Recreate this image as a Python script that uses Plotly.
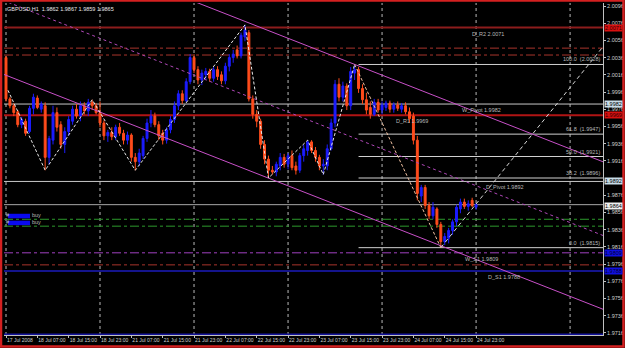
import plotly.graph_objects as go

# ---------------- data ----------------
bar_idx = list(range(-1, 121))
opens = [1.9987, 2.0036, 1.9988, 1.9980, 1.9973, 1.9958, 1.9962, 1.9950, 1.9977, 1.9989, 1.9976, 1.9980,
         1.9920, 1.9940, 1.9972, 1.9958, 1.9935, 1.9950, 1.9962, 1.9976, 1.9968, 1.9980, 1.9974, 1.9984,
         1.9980, 1.9972, 1.9960, 1.9945, 1.9949, 1.9944, 1.9955, 1.9948, 1.9940, 1.9946, 1.9920,
         1.9915, 1.9922, 1.9942, 1.9960, 1.9968, 1.9958, 1.9948, 1.9940, 1.9952, 1.9964, 1.9980, 1.9994,
         1.9986, 2.0008, 2.0036, 2.0022, 2.0010, 2.0016, 2.0020, 2.0012, 2.0022, 2.0016, 2.0009, 2.0026,
         2.0036, 2.0045, 2.0038, 2.0060, 2.0065,
         1.9988, 1.9970, 1.9962, 1.9935, 1.9918,
         1.9905, 1.9903, 1.9910, 1.9920, 1.9912, 1.9922, 1.9910, 1.9905, 1.9922, 1.9928, 1.9938, 1.9928,
         1.9920, 1.9910, 1.9910, 1.9930, 1.9960, 2.0005, 1.9990, 2.0003, 1.9980, 2.0018,
         2.0022, 2.0000, 1.9987, 1.9978, 1.9970, 1.9984, 1.9975, 1.9978, 1.9983, 1.9976, 1.9981, 1.9976,
         1.9980, 1.9973, 1.9968, 1.9940, 1.9875, 1.9885, 1.9864, 1.9852, 1.9860, 1.9842, 1.9822, 1.9826,
         1.9835, 1.9845, 1.9860, 1.9868, 1.9863, 1.9870, 1.9862]
highs = [2.0040, 2.0038, 1.9990, 1.9983, 1.9975, 1.9967, 1.9965, 1.9980, 1.9994, 1.9992, 1.9985, 1.9984,
         1.9945, 1.9980, 1.9978, 1.9962, 1.9955, 1.9968, 1.9980, 1.9982, 1.9985, 1.9984, 1.9988, 1.9987,
         1.9983, 1.9985, 1.9963, 1.9952, 1.9955, 1.9958, 1.9960, 1.9952, 1.9950, 1.9948, 1.9925,
         1.9930, 1.9945, 1.9965, 1.9975, 1.9972, 1.9962, 1.9952, 1.9955, 1.9968, 1.9985, 1.9998, 1.9998,
         2.0012, 2.0040, 2.0040, 2.0026, 2.0022, 2.0024, 2.0023, 2.0025, 2.0026, 2.0020, 2.0030, 2.0040,
         2.0045, 2.0050, 2.0065, 2.0074, 2.0068,
         1.9992, 1.9975, 1.9965, 1.9940, 1.9922,
         1.9910, 1.9915, 1.9925, 1.9924, 1.9925, 1.9928, 1.9915, 1.9925, 1.9935, 1.9940, 1.9940, 1.9932,
         1.9923, 1.9918, 1.9935, 1.9965, 2.0010, 2.0012, 2.0008, 2.0006, 2.0025, 2.0028,
         2.0025, 2.0005, 1.9995, 1.9985, 1.9988, 1.9988, 1.9985, 1.9986, 1.9986, 1.9984, 1.9985, 1.9983,
         1.9984, 1.9978, 1.9972, 1.9945, 1.9888, 1.9888, 1.9868, 1.9868, 1.9862, 1.9845, 1.9832, 1.9838,
         1.9848, 1.9865, 1.9872, 1.9872, 1.9870, 1.9873, 1.9867]
lows = [1.9985, 1.9985, 1.9977, 1.9968, 1.9955, 1.9954, 1.9945, 1.9948, 1.9970, 1.9976, 1.9972, 1.9905,
        1.9912, 1.9935, 1.9950, 1.9930, 1.9925, 1.9945, 1.9958, 1.9965, 1.9962, 1.9970, 1.9968, 1.9975,
        1.9970, 1.9955, 1.9940, 1.9938, 1.9940, 1.9940, 1.9945, 1.9935, 1.9935, 1.9915, 1.9905,
        1.9910, 1.9918, 1.9938, 1.9955, 1.9955, 1.9940, 1.9935, 1.9936, 1.9948, 1.9960, 1.9975, 1.9982,
        1.9984, 2.0005, 2.0018, 2.0005, 2.0004, 2.0010, 2.0008, 2.0008, 2.0010, 2.0005, 2.0005, 2.0020,
        2.0030, 2.0035, 2.0035, 2.0055, 1.9985,
        1.9965, 1.9955, 1.9930, 1.9912, 1.9896,
        1.9900, 1.9898, 1.9905, 1.9908, 1.9906, 1.9905, 1.9900, 1.9902, 1.9915, 1.9922, 1.9925, 1.9915,
        1.9905, 1.9900, 1.9905, 1.9928, 1.9955, 1.9985, 1.9985, 1.9975, 1.9975, 2.0010,
        1.9995, 1.9982, 1.9970, 1.9965, 1.9968, 1.9972, 1.9970, 1.9974, 1.9972, 1.9972, 1.9974, 1.9972,
        1.9970, 1.9960, 1.9935, 1.9870, 1.9868, 1.9860, 1.9848, 1.9848, 1.9838, 1.9815, 1.9818, 1.9820,
        1.9830, 1.9840, 1.9855, 1.9860, 1.9858, 1.9862, 1.9859]
closes = [2.0036, 1.9988, 1.9980, 1.9972, 1.9958, 1.9964, 1.9948, 1.9977, 1.9990, 1.9978, 1.9982, 1.9920,
          1.9942, 1.9972, 1.9955, 1.9935, 1.9950, 1.9964, 1.9976, 1.9968, 1.9980, 1.9974, 1.9984, 1.9980,
          1.9972, 1.9960, 1.9945, 1.9949, 1.9944, 1.9955, 1.9948, 1.9940, 1.9946, 1.9920, 1.9915,
          1.9925, 1.9942, 1.9960, 1.9968, 1.9958, 1.9945, 1.9940, 1.9952, 1.9964, 1.9980, 1.9994, 1.9986,
          2.0008, 2.0036, 2.0022, 2.0010, 2.0018, 2.0020, 2.0012, 2.0022, 2.0014, 2.0009, 2.0026, 2.0036,
          2.0040, 2.0038, 2.0062, 2.0068, 1.9988,
          1.9970, 1.9962, 1.9935, 1.9918, 1.9905,
          1.9903, 1.9912, 1.9920, 1.9912, 1.9922, 1.9908, 1.9905, 1.9922, 1.9930, 1.9938, 1.9928, 1.9920,
          1.9910, 1.9912, 1.9930, 1.9960, 2.0005, 1.9990, 2.0003, 1.9980, 2.0020, 2.0022,
          2.0000, 1.9987, 1.9975, 1.9970, 1.9984, 1.9975, 1.9981, 1.9983, 1.9976, 1.9981, 1.9977, 1.9980,
          1.9973, 1.9965, 1.9940, 1.9878, 1.9885, 1.9864, 1.9852, 1.9862, 1.9842, 1.9822, 1.9828, 1.9835,
          1.9845, 1.9862, 1.9868, 1.9863, 1.9866, 1.9864, 1.9865]

x_tick_idx = [0, 8, 16, 24, 32, 40, 48, 56, 64, 72, 80, 88, 96, 104, 112, 120]
x_tick_text = ["17 Jul 2008", "18 Jul 07:00", "18 Jul 15:00", "18 Jul 23:00", "21 Jul 07:00",
               "21 Jul 15:00", "21 Jul 23:00", "22 Jul 07:00", "22 Jul 15:00", "22 Jul 23:00",
               "23 Jul 07:00", "23 Jul 15:00", "23 Jul 23:00", "24 Jul 07:00", "24 Jul 15:00",
               "24 Jul 23:00"]
grid_idx = [0, 24, 48, 72, 96, 120, 144]
y_tick_vals = [1.9716, 1.9736, 1.9756, 1.9776, 1.9796, 1.9816, 1.9836, 1.9856, 1.9876,
               1.9916, 1.9936, 1.9956, 1.9976, 1.9996, 2.0016, 2.0036, 2.0056, 2.0076, 2.0096]

# zigzag pivots (bar index, price)
zz_idx = [0.5, 10, 22, 33, 61, 67, 77, 81, 89]
zz_px = [1.9998, 1.9905, 1.9987, 1.9905, 2.0074, 1.9896, 1.9940, 1.9900, 2.0028]
leg_idx = [89, 111]
leg_px = [2.0028, 1.9815]
proj_idx = [111, 153]
proj_px = [1.9815, 2.0052]

# regression channel (endpoints)
chan_idx = [-0.8, 153]
chan_upper = [2.01885, 1.99138]
chan_mid = [2.01027, 1.98281]
chan_lower = [2.00169, 1.97423]

# horizontal level lines: price, colour, width, dash
lvl_price = [2.0071, 2.0047, 2.0039, 1.9982, 1.9969, 1.9892, 1.9865, 1.9848, 1.9840, 1.9809, 1.9795, 1.9788, 1.9714]
lvl_color = ["#8c1c1c", "#a8342c", "#a8342c", "#c8c8c8", "#b01414", "#c8c8c8", "#a8a8a8",
             "#2c9a2c", "#2c9a2c", "#a040c0", "#a8342c", "#14148c", "#14149a"]
lvl_width = [2, 1, 1, 1, 2, 1, 1, 1, 1, 1, 1, 2, 2]
lvl_dash = ["solid", "dashdot", "dashdot", "solid", "solid", "solid", "solid",
            "dashdot", "dashdot", "dashdot", "dashdot", "solid", "solid"]

# labels on level lines
lbl_text = ["D_R2 2.0071", "W_Pivot 1.9982", "D_R1 1.9969", "D_Pivot 1.9892", "W_S1 1.9809", "D_S1 1.9788"]
lbl_idx = [118.5, 116, 99, 122, 116.7, 122.5]
lbl_price = [2.0071, 1.9982, 1.9969, 1.9892, 1.9809, 1.9788]

# fibonacci
fib_start = 90
fib_price = [2.0028, 1.9947, 1.9921, 1.9896, 1.9815]
fib_text = ["100.0  (2.0028)", "61.8  (1.9947)", "50.0  (1.9921)", "38.2  (1.9896)", "0.0  (1.9815)"]

# right axis boxed price labels
box_price = [2.0071, 1.9982, 1.9969, 1.9892, 1.9864, 1.9809, 1.9788, 1.9711]
box_text = ["2.0071", "1.9982", "1.9969", "1.9892", "1.9864", "1.9809", "1.9788", "1.9705"]
box_bg = ["#d81010", "#c8dce8", "#d81010", "#c8dce8", "#f0f0f0", "#1010e0", "#1010e0", "#1010e0"]
box_fg = ["#300000", "#000000", "#300000", "#000000", "#000000", "#000030", "#000030", "#000030"]

order_price = [1.9848, 1.9840]
order_text = "buy"

title_text = "GBPUSD,H1  1.9862 1.9867 1.9859 1.9865"

# ---------------- figure ----------------
W, H = 625, 348
ML, MR, MT, MB = 4, 22, 3, 13
pw, ph = W - ML - MR, H - MT - MB
FONT = "Liberation Sans, Arial"
PX_PER_PRICE = ph / (2.009949 - 1.971344)


def px_x(p):
    return (p - ML) / pw


def px_y(p):
    return (H - MB - p) / ph


fig = go.Figure()

shapes = []
for g in grid_idx:
    shapes.append(dict(type="line", xref="x", yref="paper", x0=g, x1=g, y0=0, y1=1,
                       line=dict(color="#b8b8b8", width=1, dash="dot"), layer="below"))
for p, c, w, d in zip(lvl_price, lvl_color, lvl_width, lvl_dash):
    shapes.append(dict(type="line", xref="paper", yref="y", x0=0, x1=1, y0=p, y1=p,
                       line=dict(color=c, width=w, dash=d), layer="below"))
for p in fib_price:
    shapes.append(dict(type="line", xref="x", yref="y", x0=fib_start, x1=200, y0=p, y1=p,
                       line=dict(color="#d0d0d0", width=1), layer="below"))
# order label boxes (blue), sitting just above each order line
for p in order_price:
    shapes.append(dict(type="rect", xref="paper", yref="y", x0=px_x(8), x1=px_x(30),
                       y0=p + 1 / PX_PER_PRICE, y1=p + 5.5 / PX_PER_PRICE,
                       line=dict(width=0), fillcolor="#0a0aee"))
# window frame
shapes.append(dict(type="rect", xref="paper", yref="paper", x0=px_x(1), x1=px_x(623.5),
                   y0=px_y(346.5), y1=px_y(0.5), line=dict(color="#d42020", width=2.5)))

# channel
fig.add_trace(go.Scatter(x=chan_idx, y=chan_upper, mode="lines", line=dict(color="#c850c8", width=1),
                         hoverinfo="skip", showlegend=False))
fig.add_trace(go.Scatter(x=chan_idx, y=chan_lower, mode="lines", line=dict(color="#c850c8", width=1),
                         hoverinfo="skip", showlegend=False))
fig.add_trace(go.Scatter(x=chan_idx, y=chan_mid, mode="lines", line=dict(color="#b048b8", width=1, dash="dot"),
                         hoverinfo="skip", showlegend=False))

fig.add_trace(go.Candlestick(
    x=bar_idx, open=opens, high=highs, low=lows, close=closes,
    increasing=dict(line=dict(color="#1c1cff", width=1), fillcolor="#1c1cff"),
    decreasing=dict(line=dict(color="#ff4c1c", width=1), fillcolor="#ff4c1c"),
    whiskerwidth=0, showlegend=False, hoverinfo="skip"))

# zigzag
fig.add_trace(go.Scatter(x=zz_idx, y=zz_px, mode="lines", line=dict(color="#e8e8e8", width=1, dash="3px,2px"),
                         hoverinfo="skip", showlegend=False))
fig.add_trace(go.Scatter(x=leg_idx, y=leg_px, mode="lines", line=dict(color="#f0c0a0", width=1, dash="3px,2px"),
                         hoverinfo="skip", showlegend=False))
fig.add_trace(go.Scatter(x=proj_idx, y=proj_px, mode="lines", line=dict(color="#d8d8d8", width=1, dash="4px,3px"),
                         hoverinfo="skip", showlegend=False))

ann = []
small = dict(family=FONT, size=5.5, color="#b8b8b8")
for t, i, p in zip(lbl_text, lbl_idx, lbl_price):
    ann.append(dict(x=i, y=p, xref="x", yref="y", text=t, showarrow=False, xanchor="left",
                    yanchor="top", yshift=-1, font=small))
for t, p in zip(fib_text, fib_price):
    ann.append(dict(x=1, y=p, xref="paper", yref="y", text=t, showarrow=False, xanchor="right",
                    yanchor="bottom", xshift=-1, font=small))
for t, p, bg, fg in zip(box_text, box_price, box_bg, box_fg):
    ann.append(dict(x=1, y=p, xref="paper", yref="y", text=t, showarrow=False, xanchor="left",
                    yanchor="middle", xshift=1, bgcolor=bg, borderpad=0,
                    font=dict(family=FONT, size=5.5, color=fg)))
for p in order_price:
    ann.append(dict(x=0, y=p, xref="paper", yref="y", text="#", showarrow=False, xanchor="left",
                    yanchor="bottom", xshift=0, yshift=-1, font=small))
    ann.append(dict(x=0, y=p, xref="paper", yref="y", text=order_text, showarrow=False, xanchor="left",
                    yanchor="bottom", xshift=26, yshift=-1, font=small))
ann.append(dict(x=0, y=1, xref="paper", yref="paper", text=title_text, showarrow=False,
                xanchor="left", yanchor="top", xshift=1, yshift=-1,
                font=dict(family=FONT, size=5.5, color="#e8e8e8")))

fig.update_layout(
    width=W, height=H, margin=dict(l=ML, r=MR, t=MT, b=MB, autoexpand=False),
    paper_bgcolor="#000000", plot_bgcolor="#000000",
    shapes=shapes, annotations=ann, showlegend=False,
    xaxis=dict(range=[-0.51, 152.4], tickvals=x_tick_idx, ticktext=x_tick_text, tickangle=0,
               automargin=False,
               ticklabelposition="outside right", ticks="outside", ticklen=2, tickcolor="#c0c0c0",
               tickfont=dict(family=FONT, size=5, color="#d0d0d0"),
               showgrid=False, zeroline=False, showline=True, linecolor="#c0c0c0", linewidth=1,
               rangeslider=dict(visible=False), fixedrange=True),
    yaxis=dict(range=[1.971344, 2.009949], side="right", tickvals=y_tick_vals, automargin=False,
               tickformat=".4f", ticks="outside", ticklen=2, tickcolor="#c0c0c0",
               tickfont=dict(family=FONT, size=5.5, color="#d0d0d0"),
               showgrid=False, zeroline=False, showline=True, linecolor="#c0c0c0", linewidth=1,
               fixedrange=True),
)

fig.write_html("out.html")
